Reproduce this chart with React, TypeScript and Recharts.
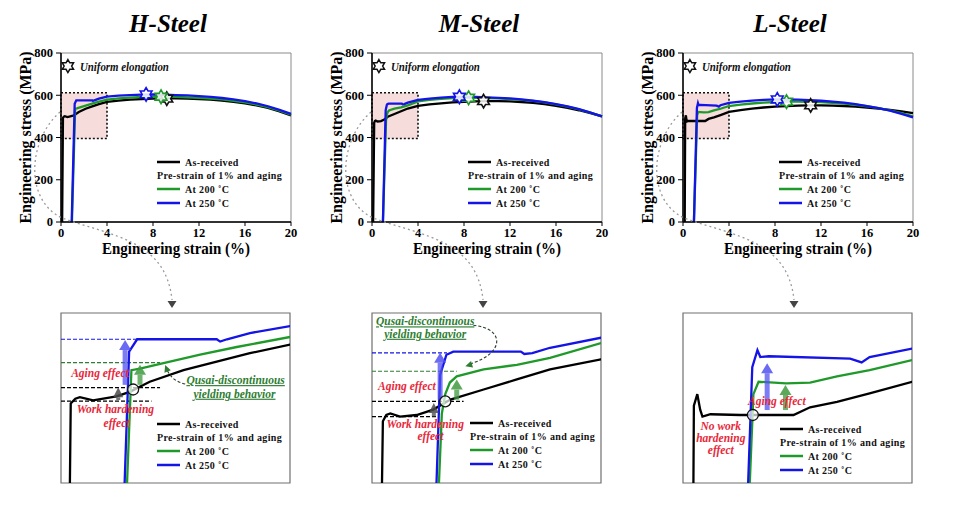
import React from 'react';
import {
  ComposedChart, Line, Scatter, XAxis, YAxis, ReferenceArea, ReferenceLine, ReferenceDot, Label, Legend,
} from 'recharts';

type Pt = [number, number];

// ---------- data: engineering strain (%) , engineering stress (MPa) ----------
const hAsReceived: Pt[] = [[0.1, 0], [0.17, 493], [0.25, 499], [0.33, 501], [0.56, 497], [0.97, 502], [1.2, 508], [1.55, 521], [2.14, 536], [2.72, 547], [3.3, 558], [4, 569], [5, 575], [6, 579], [7, 582], [8, 584], [9, 585], [10, 585], [11, 584], [12, 582], [13, 579], [14, 575], [15, 569], [16, 562], [17, 552], [18, 540], [19, 524], [20, 505]];
const h200: Pt[] = [[0.95, 0], [1.23, 536], [1.38, 538], [1.79, 545], [2.43, 556], [3.07, 566], [4, 579], [5, 585], [6, 589], [7, 592], [8, 593], [9, 593], [10, 592], [11, 590], [12, 588], [13, 584], [14, 580], [15, 573], [16, 566], [17, 556], [18, 544], [19, 527], [20, 508]];
const h250: Pt[] = [[0.93, 0], [1.19, 560], [1.33, 576], [2.72, 576], [2.78, 573], [2.9, 576], [3.3, 584], [4, 593], [5, 598], [6, 601], [7, 603], [8, 604], [9, 603], [10, 601], [11, 599], [12, 596], [13, 592], [14, 587], [15, 580], [16, 572], [17, 561], [18, 548], [19, 531], [20, 512]];
const hStars: Pt[] = [[9.2, 584], [8.7, 593], [7.4, 604]];

const mAsReceived: Pt[] = [[0.1, 0], [0.19, 470], [0.25, 478], [0.32, 480], [0.49, 476], [0.78, 478], [1.07, 485], [1.37, 498], [1.95, 511], [2.53, 524], [3.11, 537], [4, 550], [5, 557], [6, 562], [7, 566], [8, 569], [9, 571], [10, 572], [11, 572], [12, 571], [13, 568], [14, 564], [15, 558], [16, 550], [17, 540], [18, 529], [19, 515], [20, 500]];
const m200: Pt[] = [[0.95, 0], [1.22, 480], [1.28, 505], [1.36, 520], [1.48, 528], [1.95, 537], [2.53, 543], [3.11, 552], [4, 571], [5, 578], [6, 583], [7, 586], [8, 588], [9, 588], [10, 587], [11, 585], [12, 582], [13, 578], [14, 573], [15, 566], [16, 557], [17, 546], [18, 533], [19, 518], [20, 500]];
const m250: Pt[] = [[0.95, 0], [1.19, 530], [1.3, 556], [1.42, 560], [2.6, 560], [2.66, 557], [2.8, 558], [3.11, 565], [4, 578], [5, 584], [6, 589], [7, 592], [8, 593], [9, 592], [10, 590], [11, 588], [12, 585], [13, 580], [14, 574], [15, 567], [16, 558], [17, 547], [18, 534], [19, 518], [20, 500]];
const mStars: Pt[] = [[9.7, 572], [8.4, 588], [7.6, 593]];

const lAsReceived: Pt[] = [[0.15, 0], [0.19, 490], [0.25, 505], [0.3, 485], [0.34, 476], [0.48, 479], [1.0, 478], [1.93, 478], [2.22, 488], [2.69, 495], [3.26, 506], [4, 521], [5, 530], [6, 537], [7, 542], [8, 546], [9, 549], [10, 551], [11, 552], [12, 552], [13, 551], [14, 549], [15, 546], [16, 542], [17, 537], [18, 531], [19, 524], [20, 515]];
const l200: Pt[] = [[0.95, 0], [1.23, 505], [1.32, 521], [1.8, 519], [2.22, 520], [2.69, 528], [3.26, 536], [4, 549], [5, 556], [6, 561], [7, 565], [8, 568], [9, 570], [10, 570], [11, 569], [12, 567], [13, 564], [14, 560], [15, 555], [16, 548], [17, 539], [18, 528], [19, 515], [20, 500]];
const l250: Pt[] = [[0.95, 0], [1.21, 540], [1.3, 562], [1.35, 553], [1.5, 554], [2.92, 551], [3.12, 546], [3.26, 553], [4, 564], [5, 570], [6, 575], [7, 578], [8, 580], [9, 580], [10, 579], [11, 577], [12, 574], [13, 570], [14, 565], [15, 558], [16, 549], [17, 539], [18, 527], [19, 512], [20, 495]];
const lStars: Pt[] = [[11.1, 552], [9.0, 570], [8.2, 580]];

const strainTicks = [0, 4, 8, 12, 16, 20];
const stressTicks = [0, 200, 400, 600, 800];
const legendLabels = ['As-received', 'Pre-strain of 1% and aging', 'At 200 \u02DAC', 'At 250 \u02DAC'];
const titles = ['H-Steel', 'M-Steel', 'L-Steel'];

// ---------- styling ----------
const FONT = "'Liberation Serif', 'Times New Roman', Times, serif";
const BLACK = '#000000';
const GREEN = '#1f9a2a';
const BLUE = '#1414e6';
const RED = '#e8283a';
const DGREEN = '#2e7d32';
const LW = 2.3;

const toPts = (a: Pt[]) => a.map(([x, y]) => ({ x, y }));

function hexPath(cx: number, cy: number, R: number) {
  const r = R / Math.sqrt(3);
  let d = '';
  for (let i = 0; i < 12; i++) {
    const ang = -Math.PI / 2 + (i * Math.PI) / 6;
    const rad = i % 2 === 0 ? R : r;
    d += (i === 0 ? 'M' : 'L') + (cx + rad * Math.cos(ang)).toFixed(2) + ' ' + (cy + rad * Math.sin(ang)).toFixed(2) + ' ';
  }
  return d + 'Z';
}

const starShape = (color: string) => (p: any) => (
  <path d={hexPath(p.cx, p.cy, 6.8)} fill="#ffffff" fillOpacity={0.85} stroke={color} strokeWidth={1.6} />
);

const legendContent = () => (
  <svg width={150} height={54} style={{ display: 'block', overflow: 'visible' }}>
    {[0, 2, 3].map((i) => {
      const y = [6, 19, 33, 47][i];
      const c = [BLACK, '', GREEN, BLUE][i];
      return <line key={'l' + i} x1={0} y1={y} x2={23} y2={y} stroke={c} strokeWidth={2.5} />;
    })}
    {[0, 1, 2, 3].map((i) => (
      <text key={'t' + i} x={i === 1 ? 0 : 28} y={[6, 19, 33, 47][i] + 3.6} fontFamily={FONT} fontWeight="bold"
        fontSize={10} letterSpacing={0.35} fill="#111">{legendLabels[i]}</text>
    ))}
  </svg>
);

const steels = [
  {
    left: 0, title: titles[0], ar: hAsReceived, a200: h200, a250: h250, stars: hStars,
    notes: {
      levels: [{ y: 576, x2: 1.33, c: BLUE }, { y: 545.7, x2: 1.73, c: DGREEN }, { y: 513.4, x2: 1.73, c: BLACK }, { y: 496, x2: 1.58, c: BLACK }],
      arrows: [{ x: 1.0, y1: 497.4, y2: 513.8, c: '#4a4a4a', w: 4 }, { x: 1.12, y1: 517, y2: 575, c: '#5050f0', w: 5 }, { x: 1.38, y1: 517, y2: 543, c: '#3f9a3f', w: 5 }],
      node: [1.26, 511],
      labels: [
        { t: 'Aging effect', x: 0.68, y: 526.8, c: RED, u: false },
        { t: 'Work hardening', x: 0.95, y: 480, c: RED, u: false },
        { t: 'effect', x: 0.97, y: 462, c: RED, u: false },
        { t: 'Qusai-discontinuous', x: 3.05, y: 518, c: DGREEN, u: true },
        { t: 'yielding behavior', x: 3.03, y: 500.4, c: DGREEN, u: true },
      ],
      pointer: { x: 1.82, y: 542.7, path: [20, 19, 6, 16, 1, 3] as number[] },
      legend: { left: 157, top: 106 },
    },
  },
  {
    left: 311, title: titles[1], ar: mAsReceived, a200: m200, a250: m250, stars: mStars,
    notes: {
      levels: [{ y: 558.5, x2: 1.31, c: BLUE }, { y: 534.6, x2: 1.48, c: DGREEN }, { y: 495.6, x2: 1.6, c: BLACK }, { y: 476, x2: 1.16, c: BLACK }],
      arrows: [{ x: 1.08, y1: 476, y2: 493.5, c: '#4a4a4a', w: 4 }, { x: 1.19, y1: 497.8, y2: 558.5, c: '#5050f0', w: 5 }, { x: 1.48, y1: 497.8, y2: 523.8, c: '#3f9a3f', w: 5 }],
      node: [1.28, 495.6],
      labels: [
        { t: 'Aging effect', x: 0.61, y: 510.8, c: RED, u: false },
        { t: 'Work hardening', x: 0.93, y: 461.8, c: RED, u: false },
        { t: 'effect', x: 1.02, y: 445.8, c: RED, u: false },
        { t: 'Qusai-discontinuous', x: 0.93, y: 594, c: DGREEN, u: true },
        { t: 'yielding behavior', x: 0.93, y: 578, c: DGREEN, u: true },
      ],
      pointer: { x: 1.63, y: 541, path: [8, -41, 40, -38, 40, -12, 3, -2] as number[] },
      legend: { left: 159, top: 105 },
    },
  },
  {
    left: 622, title: titles[2], ar: lAsReceived, a200: l200, a250: l250, stars: lStars,
    notes: {
      levels: [] as { y: number; x2: number; c: string }[],
      arrows: [{ x: 1.47, y1: 484.4, y2: 545, c: '#5050f0', w: 5 }, { x: 1.79, y1: 484.4, y2: 516.8, c: '#3f9a3f', w: 5 }],
      node: [1.22, 478],
      labels: [
        { t: 'Aging effect', x: 1.64, y: 491, c: RED, u: false },
        { t: 'No work', x: 0.66, y: 458.3, c: RED, u: false },
        { t: 'hardening', x: 0.66, y: 443.3, c: RED, u: false },
        { t: 'effect', x: 0.66, y: 428, c: RED, u: false },
      ],
      pointer: null as null | { x: number; y: number; path: number[] },
      legend: { left: 158, top: 111 },
    },
  },
];

const tickStyle = { fontSize: 12.5, fontWeight: 'bold', fill: '#000', fontFamily: FONT } as any;

function TopChart({ s }: { s: typeof steels[number] }) {
  return (
    <div style={{ position: 'absolute', left: s.left, top: 0 }}>
      <ComposedChart width={310} height={262} margin={{ top: 53, right: 19, bottom: 0, left: 0 }}>
        <XAxis type="number" dataKey="x" domain={[0, 20]} ticks={strainTicks} interval={0} height={40}
          tick={tickStyle} tickSize={4} tickMargin={2} tickLine={{ stroke: '#000' }}
          axisLine={{ stroke: '#000', strokeWidth: 1.5 }}>
          <Label content={(p: any) => {
            const vb = p.viewBox || { x: 61, y: 222, width: 230, height: 40 };
            return (
              <text x={vb.x + vb.width / 2} y={vb.y + 32} textAnchor="middle" fontFamily={FONT} fontWeight="bold"
                fontSize={17} textLength={148} lengthAdjust="spacingAndGlyphs" fill="#000">Engineering strain (%)</text>
            );
          }} />
        </XAxis>
        <YAxis type="number" dataKey="y" domain={[0, 800]} ticks={stressTicks} interval={0} width={61}
          tick={tickStyle} tickSize={5} tickMargin={3} tickLine={{ stroke: '#000' }}
          axisLine={{ stroke: '#000', strokeWidth: 1.5 }}>
          <Label content={(p: any) => {
            const vb = p.viewBox || { x: 0, y: 53, width: 61, height: 169 };
            const cx = vb.x + 31;
            const cy = vb.y + vb.height / 2;
            return (
              <text x={cx} y={cy} transform={`rotate(-90 ${cx} ${cy})`} textAnchor="middle" fontFamily={FONT}
                fontWeight="bold" fontSize={16.5} textLength={172} lengthAdjust="spacingAndGlyphs" fill="#000">Engineering stress (MPa)</text>
            );
          }} />
        </YAxis>
        <ReferenceArea x1={0} x2={20} y1={0} y2={800} fill="none" stroke="#8a8a8a" strokeWidth={1} />
        <ReferenceArea x1={0} x2={4} y1={395} y2={612} fill="#f6d6d6" fillOpacity={0.85} stroke="#111"
          strokeDasharray="2 2" strokeWidth={1.6} />
        <ReferenceDot x={0.6} y={738} r={0} shape={(p: any) => (
          <g>
            <path d={hexPath(p.cx, p.cy, 6.5)} fill="#fff" stroke="#111" strokeWidth={1.5} />
            <text x={p.cx + 12} y={p.cy + 4.5} fontFamily={FONT} fontWeight="bold" fontStyle="italic" fontSize={12.5}
              textLength={89} lengthAdjust="spacingAndGlyphs" fill="#111">Uniform elongation</text>
          </g>
        )} />
        <Line data={toPts(s.ar)} dataKey="y" stroke={BLACK} strokeWidth={LW} dot={false} isAnimationActive={false} type="linear" />
        <Line data={toPts(s.a200)} dataKey="y" stroke={GREEN} strokeWidth={LW} dot={false} isAnimationActive={false} type="linear" />
        <Line data={toPts(s.a250)} dataKey="y" stroke={BLUE} strokeWidth={LW} dot={false} isAnimationActive={false} type="linear" />
        <Scatter data={toPts([s.stars[0]])} dataKey="y" shape={starShape('#111')} isAnimationActive={false} />
        <Scatter data={toPts([s.stars[1]])} dataKey="y" shape={starShape(GREEN)} isAnimationActive={false} />
        <Scatter data={toPts([s.stars[2]])} dataKey="y" shape={starShape(BLUE)} isAnimationActive={false} />
        <Legend layout="vertical" align="center" verticalAlign="middle" content={legendContent}
          wrapperStyle={{ left: 157, top: 156, width: 150, height: 54 }} />
      </ComposedChart>
    </div>
  );
}

function headPoints(tx: number, ty: number, fx: number, fy: number, len = 7, half = 3.4) {
  const dx = tx - fx, dy = ty - fy;
  const L = Math.hypot(dx, dy) || 1;
  const ux = dx / L, uy = dy / L;
  const bx = tx - ux * len, by = ty - uy * len;
  return `${tx},${ty} ${bx - uy * half},${by + ux * half} ${bx + uy * half},${by - ux * half}`;
}

function InsetChart({ s }: { s: typeof steels[number] }) {
  const n = s.notes;
  const perPx = 220 / 170;
  return (
    <div style={{ position: 'absolute', left: s.left, top: 312 }}>
      <ComposedChart width={310} height={172} margin={{ top: 1, right: 20, bottom: 1, left: 61 }}>
        <XAxis type="number" dataKey="x" domain={[0, 4]} hide allowDataOverflow />
        <YAxis type="number" dataKey="y" domain={[390, 610]} hide allowDataOverflow />
        <ReferenceArea x1={0} x2={4} y1={390} y2={610} fill="#ffffff" stroke="#707070" strokeWidth={1.2} />
        {n.levels.map((lv, i) => (
          <ReferenceLine key={'lv' + i} segment={[{ x: 0, y: lv.y }, { x: lv.x2, y: lv.y }]} stroke={lv.c}
            strokeDasharray="4 2" strokeWidth={1.2} />
        ))}
        <Line data={toPts(s.ar)} dataKey="y" stroke={BLACK} strokeWidth={LW} dot={false} isAnimationActive={false} type="linear" />
        <Line data={toPts(s.a200)} dataKey="y" stroke={GREEN} strokeWidth={LW} dot={false} isAnimationActive={false} type="linear" />
        <Line data={toPts(s.a250)} dataKey="y" stroke={BLUE} strokeWidth={LW} dot={false} isAnimationActive={false} type="linear" />
        {n.arrows.map((a, i) => (
          <ReferenceLine key={'as' + i} segment={[{ x: a.x, y: a.y1 }, { x: a.x, y: a.y2 - 10 * perPx }]}
            stroke={a.c} strokeOpacity={0.75} strokeWidth={a.w} />
        ))}
        {n.arrows.map((a, i) => (
          <ReferenceDot key={'ah' + i} x={a.x} y={a.y2} r={0} shape={(p: any) => (
            <polygon points={`${p.cx},${p.cy} ${p.cx - a.w - 1},${p.cy + 10} ${p.cx + a.w + 1},${p.cy + 10}`}
              fill={a.c} fillOpacity={0.85} />
          )} />
        ))}
        <ReferenceDot x={n.node[0]} y={n.node[1]} r={5.5} fill="#ffffff" fillOpacity={0.7} stroke="#111" strokeWidth={1.3} />
        {n.pointer && (
          <ReferenceDot x={n.pointer.x} y={n.pointer.y} r={0} shape={(p: any) => {
            const q = n.pointer!.path;
            const d = q.length === 6
              ? `M ${p.cx + q[0]} ${p.cy + q[1]} Q ${p.cx + q[2]} ${p.cy + q[3]} ${p.cx + q[4]} ${p.cy + q[5]}`
              : `M ${p.cx + q[0]} ${p.cy + q[1]} C ${p.cx + q[2]} ${p.cy + q[3]} ${p.cx + q[4]} ${p.cy + q[5]} ${p.cx + q[6]} ${p.cy + q[7]}`;
            const fx = p.cx + q[q.length - 4], fy = p.cy + q[q.length - 3];
            return (
              <g>
                <path d={d} fill="none" stroke="#2a3a2a" strokeWidth={1.1} strokeDasharray="3 2" />
                <polygon points={headPoints(p.cx, p.cy, fx, fy)} fill={DGREEN} />
              </g>
            );
          }} />
        )}
        {n.labels.map((lb, i) => (
          <ReferenceDot key={'lb' + i} x={lb.x} y={lb.y} r={0} shape={(p: any) => (
            <text x={p.cx} y={p.cy} textAnchor="middle" fontFamily={FONT} fontWeight="bold" fontStyle="italic"
              fontSize={11.5} fill={lb.c} textDecoration={lb.u ? 'underline' : undefined}>{lb.t}</text>
          )} />
        ))}
        <Legend layout="vertical" align="center" verticalAlign="middle" content={legendContent}
          wrapperStyle={{ left: n.legend.left, top: n.legend.top, width: 150, height: 54 }} />
      </ComposedChart>
    </div>
  );
}

function Overlay() {
  return (
    <svg width={960} height={522} style={{ position: 'absolute', left: 0, top: 0, pointerEvents: 'none' }}>
      {steels.map((s, i) => {
        const o = s.left;
        return (
          <g key={i}>
            <text x={o + 168} y={32} textAnchor="middle" fontFamily={FONT} fontWeight="bold" fontStyle="italic"
              fontSize={25} fill="#000">{s.title}</text>
            <path d={`M ${o + 60} 112 C ${o + 28} 140 ${o + 24} 200 ${o + 62} 218 C ${o + 112} 236 ${o + 166} 240 ${o + 172} 300`}
              fill="none" stroke="#9a9a9a" strokeWidth={1.3} strokeDasharray="2 3" />
            <polygon points={`${o + 167.5},301 ${o + 176.5},301 ${o + 172},308`} fill="#444" />
          </g>
        );
      })}
    </svg>
  );
}

export default function App() {
  return (
    <div style={{ position: 'absolute', left: 0, top: 0, width: 960, height: 522, background: '#fff', overflow: 'hidden' }}>
      {steels.map((s, i) => <TopChart key={'t' + i} s={s} />)}
      {steels.map((s, i) => <InsetChart key={'i' + i} s={s} />)}
      <Overlay />
    </div>
  );
}
